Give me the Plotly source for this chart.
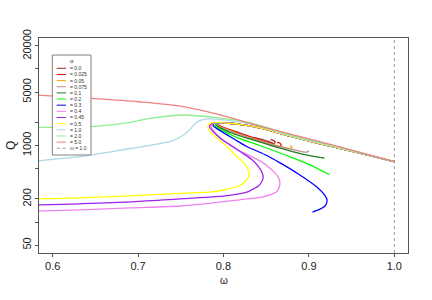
import plotly.graph_objects as go

W, H = 432, 300
ML, MR, MT, MB = 39, 24, 38, 47

alpha_labels = ["0.0", "0.025", "0.05", "0.075", "0.1", "0.2", "0.3", "0.4",
                "0.45", "0.5", "1.0", "2.0", "5.0"]
colors = ["#A52A2A", "#FF0000", "#FFA500", "#BC8F8F", "#1E7B1E", "#00FF00",
          "#0000FF", "#EE82EE", "#A020F0", "#FFFF00", "#ADD8E6", "#90EE90",
          "#F08080"]

x_ticks = [0.6, 0.7, 0.8, 0.9, 1.0]
x_ticktext = ["0.6", "0.7", "0.8", "0.9", "1.0"]
y_ticks = [50, 100, 200, 500, 1000, 2000, 5000, 10000, 20000]
y_ticktext = ["50", "", "200", "", "1000", "", "5000", "", "20000"]

# shared upper (stable) branch of the small-alpha curves, from omega = 1 to the turning point
upper_omega = [1.0, 0.951, 0.9124, 0.8774, 0.8424, 0.819, 0.805, 0.7957]
upper_Q = [616, 839, 1060, 1334, 1698, 1890, 1958, 1990]

# lower branches (after the turning point)
omega_a000 = [0.7934, 0.798, 0.8132, 0.8307, 0.8447, 0.854, 0.8587, 0.8605, 0.8587, 0.855]
Q_a000 = [1900, 1750, 1530, 1310, 1200, 1112, 1060, 1112, 1160, 1190]

omega_a025 = [0.7928, 0.8015, 0.819, 0.8365, 0.8517, 0.861, 0.8657, 0.8675, 0.8657, 0.8628]
Q_a025 = [1890, 1683, 1440, 1236, 1095, 1000, 970, 1015, 1078, 1100]

omega_a050 = [0.7922, 0.8073, 0.8307, 0.854, 0.8716, 0.8786, 0.8803, 0.878]
Q_a050 = [1870, 1575, 1270, 1060, 940, 914, 955, 990]

omega_a075 = [0.7916, 0.8097, 0.8365, 0.8657, 0.8867, 0.8948, 0.8984, 0.9001]
Q_a075 = [1860, 1515, 1200, 970, 859, 821, 828, 854]

omega_a100 = [0.791, 0.8073, 0.8307, 0.854, 0.8809, 0.9007, 0.9182]
Q_a100 = [1850, 1490, 1218, 1015, 834, 738, 685]

omega_a200 = [0.7899, 0.798, 0.8132, 0.8424, 0.8774, 0.9007, 0.924]
Q_a200 = [1830, 1600, 1310, 1000, 716, 562, 415]

omega_a300 = [0.7899, 0.7875, 0.7957, 0.8132, 0.8272, 0.8482, 0.8657, 0.889, 0.9089,
              0.9182, 0.9212, 0.9194, 0.9124, 0.9042]
Q_a300 = [1958, 1830, 1575, 1200, 970, 762, 597, 415, 289, 226, 195, 165, 146, 135]

omega_a400 = [0.7881, 0.7852, 0.7899, 0.8015, 0.8155, 0.8307, 0.8459, 0.8564, 0.8622,
              0.8657, 0.8657, 0.8622, 0.854, 0.8459, 0.819, 0.7875, 0.749, 0.6907,
              0.6323, 0.5845, 0.574]
Q_a400 = [1958, 1806, 1483, 1130, 886, 738, 597, 483, 415, 346, 298, 248, 226, 213,
          195, 178, 162, 153, 144, 140, 137]

omega_a450 = [0.7869, 0.7834, 0.7887, 0.798, 0.8073, 0.8213, 0.833, 0.84, 0.8447,
              0.8465, 0.8447, 0.8412, 0.833, 0.8272, 0.8073, 0.7875, 0.749, 0.6907,
              0.6323, 0.5845, 0.574]
Q_a450 = [1958, 1795, 1483, 1200, 1030, 809, 655, 546, 455, 379, 336, 298, 264, 245,
          223, 213, 201, 183, 173, 167, 165]

omega_a500 = [0.7858, 0.7817, 0.784, 0.7934, 0.7992, 0.8073, 0.8155, 0.8225, 0.8272,
              0.8295, 0.8301, 0.8272, 0.8225, 0.8155, 0.8015, 0.7875, 0.749, 0.6907,
              0.6323, 0.5845, 0.574]
Q_a500 = [1970, 1790, 1530, 1218, 1078, 886, 716, 616, 529, 455, 403, 357, 316, 289,
          264, 248, 237, 220, 207, 201, 198]

# large-alpha curves (full)
omega_a1000 = [0.574, 0.5845, 0.6323, 0.6907, 0.7257, 0.7408, 0.7525, 0.7607, 0.7677,
               0.7747, 0.784, 0.8015, 0.819, 0.8424, 0.8774, 0.9124, 0.951, 1.0]
Q_a1000 = [616, 635, 716, 914, 1060, 1160, 1354, 1620, 1977, 2165, 2230, 2165, 2037,
           1780, 1354, 1078, 846, 616]

omega_a2000 = [0.574, 0.5845, 0.6207, 0.6557, 0.6907, 0.714, 0.7525, 0.7922, 0.8307,
               0.854, 0.8774, 0.9124, 0.951, 1.0]
Q_a2000 = [1730, 1730, 1730, 1806, 2010, 2265, 2505, 2310, 1990, 1674, 1375, 1095, 855, 616]

omega_a5000 = [0.574, 0.5845, 0.6, 0.65, 0.7, 0.75, 0.8, 0.85, 0.9, 0.95, 1.0]
Q_a5000 = [4610, 4550, 4420, 4090, 3730, 3260, 2440, 1698, 1218, 872, 616]

lower_omega = [omega_a000, omega_a025, omega_a050, omega_a075, omega_a100, omega_a200,
               omega_a300, omega_a400, omega_a450, omega_a500]
lower_Q = [Q_a000, Q_a025, Q_a050, Q_a075, Q_a100, Q_a200, Q_a300, Q_a400, Q_a450, Q_a500]

curves_omega = [upper_omega + lo for lo in lower_omega] + [omega_a1000, omega_a2000, omega_a5000]
curves_Q = [upper_Q + lq for lq in lower_Q] + [Q_a1000, Q_a2000, Q_a5000]

omega_ref = 1.0

fig = go.Figure()
for om, q, c, lab in zip(curves_omega, curves_Q, colors, alpha_labels):
    fig.add_trace(go.Scatter(x=om, y=q, mode="lines", name="= " + lab,
                             line=dict(color=c, width=1.3, shape="spline", smoothing=0.8),
                             hoverinfo="skip"))

fig.add_shape(type="line", xref="x", yref="paper", x0=omega_ref, x1=omega_ref, y0=0, y1=1,
              line=dict(color="#9a9a9a", width=1, dash="dot"))

PW, PH = W - ML - MR, H - MT - MB


def pp(x, y):
    return (x - ML) / PW, 1 - (y - MT) / PH


# manual legend (R-style, small)
bx0, by0 = pp(52.3, 55)
bx1, by1 = pp(91, 155)
fig.add_shape(type="rect", xref="paper", yref="paper", x0=bx0, y0=by1, x1=bx1, y1=by0,
              line=dict(color="#808080", width=1), fillcolor="white", layer="above")
tx, ty = pp(71.7, 61)
fig.add_annotation(xref="paper", yref="paper", x=tx, y=ty, text="α", showarrow=False,
                   font=dict(size=6, color="#333"), xanchor="center", yanchor="middle")
entries = [("= " + l, c, "solid") for l, c in zip(alpha_labels, colors)]
entries.append(("ω = 1.0", "#9a9a9a", "dot"))
for i, (lab, c, d) in enumerate(entries):
    yy = 68.3 + 6.15 * i
    lx0, ly = pp(56.7, yy)
    lx1, _ = pp(66, yy)
    fig.add_shape(type="line", xref="paper", yref="paper", x0=lx0, x1=lx1, y0=ly, y1=ly,
                  line=dict(color=c, width=1, dash=d), layer="above")
    ax, _ = pp(67.5, yy)
    fig.add_annotation(xref="paper", yref="paper", x=ax, y=ly, text=lab, showarrow=False,
                       font=dict(size=5, color="#333"), xanchor="left", yanchor="middle")

# axis titles
xt, yt = pp(223.5, 280)
fig.add_annotation(xref="paper", yref="paper", x=xt, y=yt, text="ω", showarrow=False,
                   font=dict(size=10, color="#222"), xanchor="center", yanchor="middle")
xq, yq = pp(11, 146)
fig.add_annotation(xref="paper", yref="paper", x=xq, y=yq, text="Q", showarrow=False,
                   textangle=-90, font=dict(size=12, color="#222"),
                   xanchor="center", yanchor="middle")

axis_common = dict(showline=True, mirror=True, linecolor="#555", linewidth=1,
                   ticks="outside", ticklen=3, tickcolor="#555", showgrid=False,
                   zeroline=False, automargin=False, tickfont=dict(size=11, color="#222"))

fig.update_layout(
    width=W, height=H,
    margin=dict(l=ML, r=MR, t=MT, b=MB, autoexpand=False),
    paper_bgcolor="white", plot_bgcolor="white",
    showlegend=False,
    font=dict(family="Liberation Sans, Arial, sans-serif", size=11, color="#222"),
    xaxis=dict(range=[0.584, 1.016], tickvals=x_ticks, ticktext=x_ticktext, **axis_common),
    yaxis=dict(type="log", range=[1.595, 4.405], tickvals=y_ticks, ticktext=y_ticktext,
               tickangle=-90, **axis_common),
)

fig.write_html("out.html", config={"displayModeBar": False})

# remove default page margin so the figure sits at the window origin
with open("out.html", "r", encoding="utf-8") as f:
    html = f.read()
html = html.replace("<head>", "<head><style>html,body{margin:0;padding:0;overflow:hidden;}</style>", 1)
with open("out.html", "w", encoding="utf-8") as f:
    f.write(html)
